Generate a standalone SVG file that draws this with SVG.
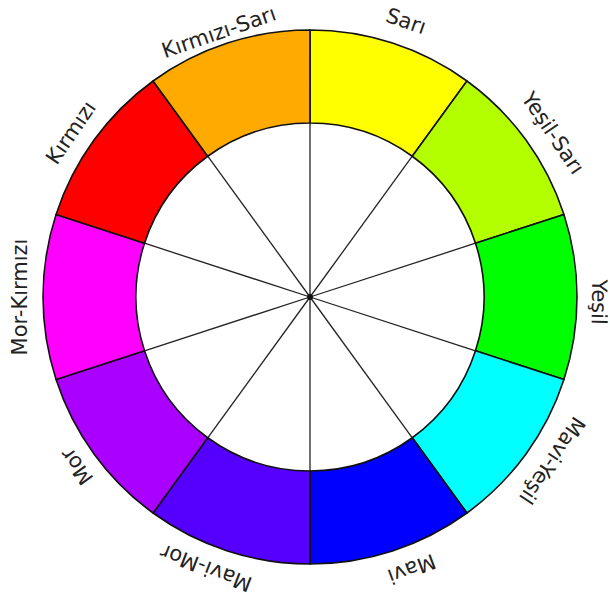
<svg xmlns="http://www.w3.org/2000/svg" width="610" height="600" viewBox="0 0 610 600">
  <style>
    .seg { stroke: #111; stroke-width: 1.6; stroke-linejoin: round; }
    .spoke { stroke: #222; stroke-width: 1.3; }
    .lbl { font-family: "DejaVu Sans", Verdana, sans-serif; font-size: 21px; fill: #222; text-anchor: middle; }
  </style>
  <defs>
    <path id="wedge" d="M310,30 A267,267 0 0 1 466.94,80.99 L412.27,156.23 A174,174 0 0 0 310,123 Z"/>
  </defs>
  <rect width="610" height="600" fill="#ffffff"/>
  <g id="connectors">
    <line class="spoke" x1="310" y1="297" x2="310" y2="123"/>
    <line class="spoke" x1="310" y1="297" x2="310" y2="123" transform="rotate(36 310 297)"/>
    <line class="spoke" x1="310" y1="297" x2="310" y2="123" transform="rotate(72 310 297)"/>
    <line class="spoke" x1="310" y1="297" x2="310" y2="123" transform="rotate(108 310 297)"/>
    <line class="spoke" x1="310" y1="297" x2="310" y2="123" transform="rotate(144 310 297)"/>
    <line class="spoke" x1="310" y1="297" x2="310" y2="123" transform="rotate(180 310 297)"/>
    <line class="spoke" x1="310" y1="297" x2="310" y2="123" transform="rotate(216 310 297)"/>
    <line class="spoke" x1="310" y1="297" x2="310" y2="123" transform="rotate(252 310 297)"/>
    <line class="spoke" x1="310" y1="297" x2="310" y2="123" transform="rotate(288 310 297)"/>
    <line class="spoke" x1="310" y1="297" x2="310" y2="123" transform="rotate(324 310 297)"/>
    <circle cx="310" cy="297" r="3" fill="#111"/>
  </g>
  <g id="sari">
    <use href="#wedge" class="seg" fill="#FFFF00"/>
    <text class="lbl" x="310" y="12" transform="rotate(19.2 310 297)">Sarı</text>
  </g>
  <g id="yesil-sari">
    <use href="#wedge" class="seg" fill="#B3FF00" transform="rotate(36 310 297)"/>
    <text class="lbl" x="310" y="11" transform="rotate(56 310 297)">Yeşil-Sarı</text>
  </g>
  <g id="yesil">
    <use href="#wedge" class="seg" fill="#00FF00" transform="rotate(72 310 297)"/>
    <text class="lbl" x="310" y="15" transform="rotate(91 310 297)">Yeşil</text>
  </g>
  <g id="mavi-yesil">
    <use href="#wedge" class="seg" fill="#00FFFF" transform="rotate(108 310 297)"/>
    <text class="lbl" x="310" y="12" transform="rotate(124 310 297)">Mavi-Yeşil</text>
  </g>
  <g id="mavi">
    <use href="#wedge" class="seg" fill="#0000FF" transform="rotate(144 310 297)"/>
    <text class="lbl" x="310" y="14" transform="rotate(159.5 310 297)">Mavi</text>
  </g>
  <g id="mavi-mor">
    <use href="#wedge" class="seg" fill="#5500FF" transform="rotate(180 310 297)"/>
    <text class="lbl" x="310" y="14" transform="rotate(201 310 297)">Mavi-Mor</text>
  </g>
  <g id="mor">
    <use href="#wedge" class="seg" fill="#AA00FF" transform="rotate(216 310 297)"/>
    <text class="lbl" x="310" y="16" transform="rotate(234 310 297)">Mor</text>
  </g>
  <g id="mor-kirmizi">
    <use href="#wedge" class="seg" fill="#FF00FF" transform="rotate(252 310 297)"/>
    <text class="lbl" x="310" y="14" transform="rotate(270 310 297)">Mor-Kırmızı</text>
  </g>
  <g id="kirmizi">
    <use href="#wedge" class="seg" fill="#FF0000" transform="rotate(288 310 297)"/>
    <text class="lbl" x="310" y="14" transform="rotate(304.5 310 297)">Kırmızı</text>
  </g>
  <g id="kirmizi-sari">
    <use href="#wedge" class="seg" fill="#FFAA00" transform="rotate(324 310 297)"/>
    <text class="lbl" x="310" y="24" transform="rotate(341 310 297)">Kırmızı-Sarı</text>
  </g>
</svg>
